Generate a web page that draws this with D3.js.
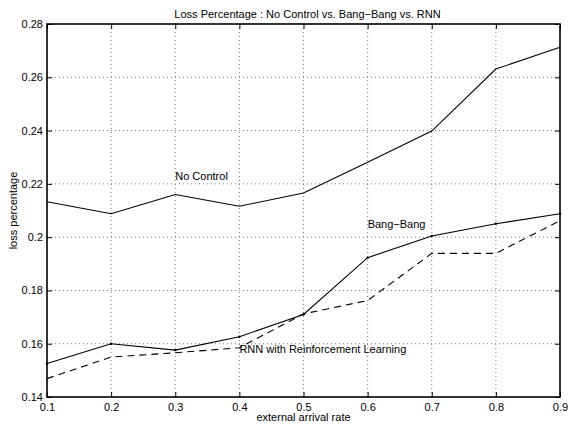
<!DOCTYPE html>
<html>
<head>
<meta charset="utf-8">
<script src="https://cdn.jsdelivr.net/npm/d3@7"></script>
<style>
  html, body { margin: 0; padding: 0; background: #fff; }
  svg { display: block; font-family: "Liberation Sans", Arial, Helvetica, sans-serif; }
</style>
</head>
<body>
<svg id="chart" width="569" height="427"></svg>
<script>
// Arrival rates on the x axis
const arrivalRates = [0.1, 0.2, 0.3, 0.4, 0.5, 0.6, 0.7, 0.8, 0.9];

// Loss percentage for each control strategy
const noControl = [0.2133, 0.2088, 0.2160, 0.2116, 0.2166, 0.2281, 0.2398, 0.2631, 0.2713];
const bangBang  = [0.1526, 0.1600, 0.1576, 0.1626, 0.1710, 0.1923, 0.2004, 0.2050, 0.2088];
const rnnRL     = [0.1469, 0.1550, 0.1566, 0.1585, 0.1712, 0.1762, 0.1939, 0.1939, 0.2062];

// Tick values
const xTicks = [0.1, 0.2, 0.3, 0.4, 0.5, 0.6, 0.7, 0.8, 0.9];
const yTicks = [0.14, 0.16, 0.18, 0.2, 0.22, 0.24, 0.26, 0.28];

const svg = d3.select("#chart");
const margin = { left: 47, right: 9, top: 24, bottom: 30 };
const W = 569, H = 427;
const x0 = margin.left, x1 = W - margin.right;
const y0 = H - margin.bottom, y1 = margin.top;

const x = d3.scaleLinear().domain([0.1, 0.9]).range([x0, x1]);
const y = d3.scaleLinear().domain([0.14, 0.28]).range([y0, y1]);

const fmt = d => String(+d.toFixed(2));

// Dotted grid
const grid = svg.append("g").attr("stroke", "#555").attr("stroke-width", 0.8)
  .attr("stroke-dasharray", "1,3");
grid.selectAll("line.gx").data(xTicks.slice(1, -1)).join("line")
  .attr("x1", d => x(d)).attr("x2", d => x(d)).attr("y1", y0).attr("y2", y1);
grid.selectAll("line.gy").data(yTicks.slice(1, -1)).join("line")
  .attr("y1", d => y(d)).attr("y2", d => y(d)).attr("x1", x0).attr("x2", x1);

// Axes with inward ticks on all four sides
const tickLen = 5;
const axB = svg.append("g").attr("transform", `translate(0,${y0})`)
  .call(d3.axisBottom(x).tickValues(xTicks).tickSize(-tickLen).tickPadding(8).tickFormat(fmt));
const axL = svg.append("g").attr("transform", `translate(${x0},0)`)
  .call(d3.axisLeft(y).tickValues(yTicks).tickSize(-tickLen).tickPadding(4).tickFormat(fmt));
const axT = svg.append("g").attr("transform", `translate(0,${y1})`)
  .call(d3.axisTop(x).tickValues(xTicks).tickSize(-tickLen).tickFormat(""));
const axR = svg.append("g").attr("transform", `translate(${x1},0)`)
  .call(d3.axisRight(y).tickValues(yTicks).tickSize(-tickLen).tickFormat(""));

[axB, axL, axT, axR].forEach(a => {
  a.select(".domain").remove();
  a.selectAll(".tick line").attr("stroke", "#000").attr("stroke-width", 1);
  a.selectAll("text").attr("fill", "#000").style("font-size", "11px")
    .style("font-family", "'Liberation Sans', Arial, sans-serif");
});
axB.selectAll("text").attr("dy", "0.5em");

// Frame
svg.append("rect").attr("x", x0).attr("y", y1).attr("width", x1 - x0).attr("height", y0 - y1)
  .attr("fill", "none").attr("stroke", "#000").attr("stroke-width", 1.6);

// Series lines
const line = vals => d3.line().x((d, i) => x(arrivalRates[i])).y(d => y(d))(vals);
svg.append("path").attr("d", line(noControl)).attr("fill", "none")
  .attr("stroke", "#000").attr("stroke-width", 1.1);
svg.append("path").attr("d", line(bangBang)).attr("fill", "none")
  .attr("stroke", "#000").attr("stroke-width", 1.1);
svg.selectAll("circle.bb").data(bangBang).join("circle")
  .attr("cx", (d, i) => x(arrivalRates[i])).attr("cy", d => y(d)).attr("r", 1.2).attr("fill", "#000");
svg.append("path").attr("d", line(rnnRL)).attr("fill", "none")
  .attr("stroke", "#000").attr("stroke-width", 1.1).attr("stroke-dasharray", "7,5");

// Series annotations
const labels = [
  { text: "No Control", rate: 0.3, val: 0.2215 },
  { text: "Bang\u2212Bang", rate: 0.6, val: 0.2035 },
  { text: "RNN with Reinforcement Learning", rate: 0.4, val: 0.1567 }
];
svg.selectAll("text.ann").data(labels).join("text")
  .attr("x", d => x(d.rate)).attr("y", d => y(d.val))
  .attr("font-size", 11).attr("fill", "#000").text(d => d.text);

// Title and axis labels
svg.append("text").attr("x", (x0 + x1) / 2 + 4).attr("y", 18).attr("text-anchor", "middle")
  .attr("font-size", 11).text("Loss Percentage : No Control vs. Bang\u2212Bang vs. RNN");
svg.append("text").attr("x", (x0 + x1) / 2).attr("y", 421).attr("text-anchor", "middle")
  .attr("font-size", 11).text("external arrival rate");
svg.append("text").attr("transform", `translate(17,${(y0 + y1) / 2}) rotate(-90)`)
  .attr("text-anchor", "middle").attr("font-size", 11).text("loss percentage");
</script>
</body>
</html>
